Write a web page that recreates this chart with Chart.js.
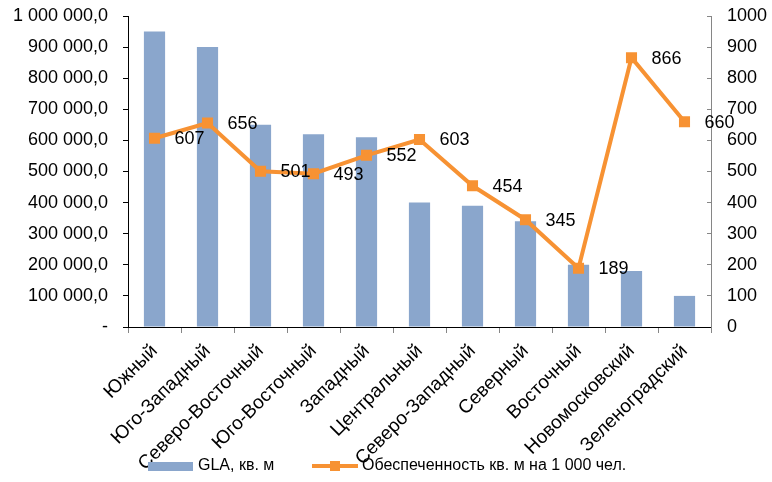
<!DOCTYPE html>
<html>
<head>
<meta charset="utf-8">
<script src="https://cdn.jsdelivr.net/npm/chart.js@4.4.1/dist/chart.umd.min.js"></script>
<style>
  html, body { margin: 0; padding: 0; background: #fff; }
  #wrap { width: 772px; height: 482px; position: relative; }
</style>
</head>
<body>
<div id="wrap"><canvas id="chart"></canvas></div>
<script>
// Округа Москвы: GLA и обеспеченность торговыми площадями
const districts = ['Южный', 'Юго-Западный', 'Северо-Восточный', 'Юго-Восточный', 'Западный',
  'Центральный', 'Северо-Западный', 'Северный', 'Восточный', 'Новомосковский', 'Зеленоградский'];
const gla = [950000, 900000, 650000, 620000, 610000, 400000, 390000, 340000, 200000, 180000, 100000];
const supply = [607, 656, 501, 493, 552, 603, 454, 345, 189, 866, 660];

const glaLabel = 'GLA, кв. м';
const supplyLabel = 'Обеспеченность кв. м на 1 000 чел.';

const BLUE = '#8AA6CC';
const ORANGE = '#F79233';
const FONT = "'Liberation Sans', Arial, sans-serif";

Chart.defaults.font.family = FONT;
Chart.defaults.font.size = 18;
Chart.defaults.color = '#000';

// "900 000,0" — разделитель тысяч пробелом, ноль как прочерк
const fmtGla = v => {
  if (v === 0) return '-';
  const s = String(Math.round(v)).replace(/\B(?=(\d{3})+(?!\d))/g, '\u00a0');
  return s + ',0';
};

// фиксированные размеры осей, без автоматических отступов под подписи
const fixWidth = w => s => { s.width = w; s.paddingTop = 0; s.paddingBottom = 0; };

// подписи значений справа от маркеров
const pointLabels = {
  id: 'pointLabels',
  afterDatasetsDraw(chart) {
    const ctx = chart.ctx;
    const meta = chart.getDatasetMeta(1);
    ctx.save();
    ctx.font = `18px ${FONT}`;
    ctx.fillStyle = '#000';
    ctx.textAlign = 'left';
    ctx.textBaseline = 'middle';
    meta.data.forEach((pt, i) => {
      ctx.fillText(String(supply[i]), pt.x + 20, pt.y + 1);
    });
    ctx.restore();
  }
};

// легенда внизу: прямоугольник для столбцов, линия с маркером для ряда
const bottomLegend = {
  id: 'bottomLegend',
  afterDraw(chart) {
    const ctx = chart.ctx;
    const y = 466;
    ctx.save();
    ctx.fillStyle = BLUE;
    ctx.fillRect(148, y - 4, 45, 9);
    ctx.strokeStyle = ORANGE;
    ctx.lineWidth = 4;
    ctx.beginPath();
    ctx.moveTo(312, y);
    ctx.lineTo(358, y);
    ctx.stroke();
    ctx.fillStyle = ORANGE;
    ctx.fillRect(330, y - 5, 10, 10);
    ctx.font = `16px ${FONT}`;
    ctx.fillStyle = '#000';
    ctx.textAlign = 'left';
    ctx.textBaseline = 'middle';
    ctx.fillText(glaLabel, 198, y);
    ctx.fillText(supplyLabel, 362, y);
    ctx.restore();
  }
};

new Chart(document.getElementById('chart'), {
  type: 'bar',
  data: {
    labels: districts,
    datasets: [
      {
        label: glaLabel,
        data: gla,
        yAxisID: 'y',
        backgroundColor: BLUE,
        barPercentage: 0.4,
        categoryPercentage: 1,
        order: 2
      },
      {
        type: 'line',
        label: supplyLabel,
        data: supply,
        yAxisID: 'y1',
        borderColor: ORANGE,
        backgroundColor: ORANGE,
        borderWidth: 4,
        pointStyle: 'rect',
        pointRadius: 5,
        pointHoverRadius: 5,
        tension: 0,
        order: 1
      }
    ]
  },
  options: {
    responsive: true,
    maintainAspectRatio: false,
    animation: false,
    layout: { padding: { top: 16, left: 0, right: 0, bottom: 0 } },
    plugins: {
      legend: { display: false },
      tooltip: { enabled: false }
    },
    scales: {
      x: {
        afterFit: s => { s.height = 155; s.paddingLeft = 0; s.paddingRight = 0; },
        grid: { display: true, drawOnChartArea: false, color: '#868686', tickLength: 6, offset: true },
        border: { color: '#000', width: 1 },
        ticks: { autoSkip: false, maxRotation: 45, minRotation: 45, padding: 7, color: '#000', font: { size: 19 } }
      },
      y: {
        position: 'left',
        min: 0, max: 1000000,
        afterFit: fixWidth(128),
        grid: { display: true, drawOnChartArea: false, color: '#000', tickLength: 5 },
        border: { color: '#000', width: 1 },
        ticks: { stepSize: 100000, padding: 15, callback: v => fmtGla(v) }
      },
      y1: {
        position: 'right',
        min: 0, max: 1000,
        afterFit: fixWidth(61),
        grid: { display: true, drawOnChartArea: false, color: '#868686', tickLength: -4 },
        border: { color: '#868686', width: 1 },
        ticks: { stepSize: 100, padding: 20, callback: v => String(v) }
      }
    }
  },
  plugins: [pointLabels, bottomLegend]
});
</script>
</body>
</html>
